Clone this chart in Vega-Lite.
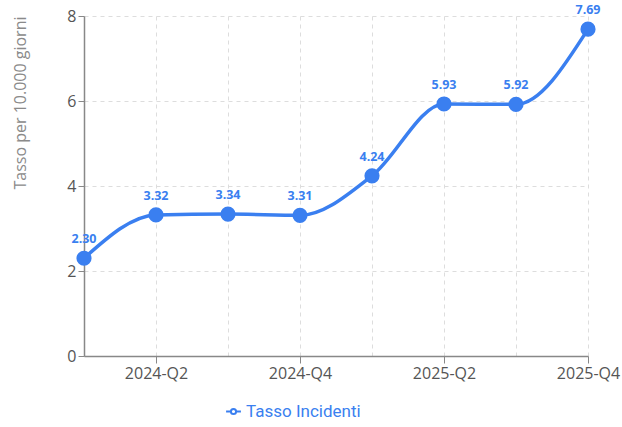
{
  "$schema": "https://vega.github.io/schema/vega-lite/v6.json",
  "autosize": {"type": "none"},
  "padding": {"left": 84, "top": 16, "right": 34, "bottom": 71},
  "width": 504,
  "height": 340,
  "background": "white",
  "config": {
    "view": {"stroke": null},
    "font": "Open Sans"
  },
  "data": {
    "values": [
      {"i": 0, "q": "2024-Q1", "serie": "Tasso Incidenti", "v": 2.30},
      {"i": 1, "q": "2024-Q2", "serie": "Tasso Incidenti", "v": 3.32},
      {"i": 2, "q": "2024-Q3", "serie": "Tasso Incidenti", "v": 3.34},
      {"i": 3, "q": "2024-Q4", "serie": "Tasso Incidenti", "v": 3.31},
      {"i": 4, "q": "2025-Q1", "serie": "Tasso Incidenti", "v": 4.24},
      {"i": 5, "q": "2025-Q2", "serie": "Tasso Incidenti", "v": 5.93},
      {"i": 6, "q": "2025-Q3", "serie": "Tasso Incidenti", "v": 5.92},
      {"i": 7, "q": "2025-Q4", "serie": "Tasso Incidenti", "v": 7.69}
    ]
  },
  "encoding": {
    "x": {
      "field": "i", "type": "quantitative",
      "scale": {"domain": [0, 7], "nice": false, "zero": false},
      "axis": {
        "title": null,
        "values": [0, 1, 2, 3, 4, 5, 6, 7],
        "labelExpr": "datum.value % 2 == 1 ? (datum.value < 4 ? '2024-Q' : '2025-Q') + (datum.value % 4 + 1) : ''",
        "labelFontSize": 16,
        "labelColor": "#555555",
        "labelPadding": 2,
        "domainColor": "#888888",
        "domainWidth": 1.5,
        "tickColor": "#888888",
        "tickSize": {"condition": {"test": "datum.value % 2 == 1", "value": 7}, "value": 0},
        "gridColor": "#dddddd",
        "gridDash": [4, 4],
        "labelFlush": false
      }
    },
    "y": {
      "field": "v", "type": "quantitative",
      "scale": {"domain": [0, 8], "nice": false},
      "axis": {
        "title": "Tasso per 10.000 giorni",
        "titleFontSize": 16,
        "titleFontWeight": "normal",
        "titleColor": "#8a8a8a",
        "titlePadding": 38,
        "titleAnchor": "end",
        "values": [0, 2, 4, 6, 8],
        "labelFontSize": 16,
        "labelColor": "#555555",
        "labelPadding": 2,
        "domainColor": "#888888",
        "domainWidth": 1.5,
        "tickColor": "#888888",
        "tickSize": 6,
        "gridColor": "#dddddd",
        "gridDash": [4, 4]
      }
    }
  },
  "layer": [
    {
      "mark": {"type": "line", "interpolate": "monotone", "strokeWidth": 3.5},
      "encoding": {
        "color": {
          "field": "serie", "type": "nominal",
          "scale": {"range": ["#3a7ff0"]},
          "legend": {
            "title": null,
            "orient": "none",
            "legendX": 141,
            "legendY": 387,
            "labelFont": "Roboto",
            "labelFontSize": 17,
            "labelColor": "#3a7ff0",
            "symbolType": "M -1 0 L -0.35 0 M 0.35 0 L 1 0 M -0.35 0 A 0.35 0.35 0 1 1 0.35 0 A 0.35 0.35 0 1 1 -0.35 0",
            "symbolSize": 220,
            "symbolStrokeWidth": 2,
            "symbolFillColor": "white",
            "symbolStrokeColor": "#3a7ff0"
          }
        }
      }
    },
    {
      "mark": {"type": "point", "filled": true, "size": 230, "opacity": 1, "color": "#3a7ff0"}
    },
    {
      "mark": {"type": "text", "dy": -19, "fontSize": 12.5, "fontWeight": "bold", "color": "#3a7ff0", "font": "Open Sans"},
      "encoding": {
        "text": {"field": "v", "type": "quantitative", "format": ".2f"}
      }
    }
  ]
}
